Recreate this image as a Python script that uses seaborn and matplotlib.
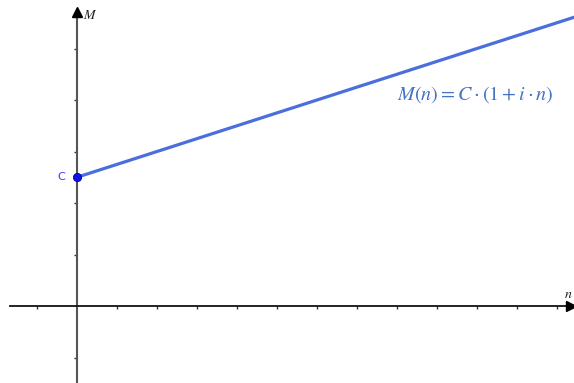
import matplotlib
matplotlib.use("Agg")
import matplotlib.pyplot as plt
import seaborn as sns
import numpy as np
import pandas as pd

# Simple interest: M(n) = C * (1 + i * n)
capital = 2.5
rate = 0.1
n_values = [0.0, 12.5]
m_values = [capital * (1 + rate * n) for n in n_values]
x_ticks = [-1, 1, 2, 3, 4, 5, 6, 7, 8, 9, 10, 11, 12]
y_ticks = [-1, 1, 2, 3, 4, 5]

sns.set_theme(style="white")
plt.rcParams["font.family"] = ["DejaVu Sans"]
plt.rcParams["mathtext.fontset"] = "stix"

fig = plt.figure(figsize=(5.74, 3.83), dpi=100)
ax = fig.add_axes([0, 0, 1, 1])

xmin, xmax = -77 / 40, 497 / 40
ymin, ymax = -77 / 51.5, 306 / 51.5
ax.set_xlim(xmin, xmax)
ax.set_ylim(ymin, ymax)

# axes through the origin
for s in ["top", "right"]:
    ax.spines[s].set_visible(False)
ax.spines["left"].set_position(("data", 0))
ax.spines["bottom"].set_position(("data", 0))
ax.spines["left"].set_color("#555555")
ax.spines["left"].set_linewidth(1.5)
ax.spines["bottom"].set_color("#111111")
ax.spines["bottom"].set_linewidth(1.3)
ax.spines["bottom"].set_bounds(-1.68, xmax)
ax.spines["left"].set_bounds(ymin, 5.7)
ax.set_xticks(x_ticks)
ax.set_yticks(y_ticks)
ax.set_xticklabels([])
ax.set_yticklabels([])
ax.tick_params(axis="x", direction="out", length=2, width=1, color="#333333", bottom=True)
ax.tick_params(axis="y", direction="out", length=2, width=1, color="#333333", left=True)
ax.grid(False)

# arrow heads
ax.plot([0], [5.7], marker="^", color="black", markersize=7, clip_on=False, zorder=5)
ax.plot([xmax - 0.07], [0], marker=">", color="black", markersize=7, clip_on=False, zorder=5)
ax.text(0.14, 5.65, "$M$", fontsize=10, va="center", ha="left", color="#222222")
ax.text(xmax - 0.25, 0.1, "$n$", fontsize=10, va="bottom", ha="left", color="#222222")

df = pd.DataFrame({"n": n_values, "M": m_values})
sns.lineplot(data=df, x="n", y="M", ax=ax, color="#4a6fdc", linewidth=2.3, zorder=3)
sns.scatterplot(x=[0], y=[capital], ax=ax, color="#1010e8", s=35, zorder=4,
                edgecolor="#0000a0", linewidth=0.6)
ax.text(-0.3, capital, "C", color="#3a3aff", fontsize=8, ha="right", va="center")

ax.text(475 / 40 - 77 / 40, (306 - 95) / 51.5, r"$M(n) = C \cdot (1 + i \cdot n)$",
        color="#4472c4", fontsize=14.5, ha="center", va="center")

ax.set_xlabel("")
ax.set_ylabel("")
fig.savefig("out.png", dpi=100)
